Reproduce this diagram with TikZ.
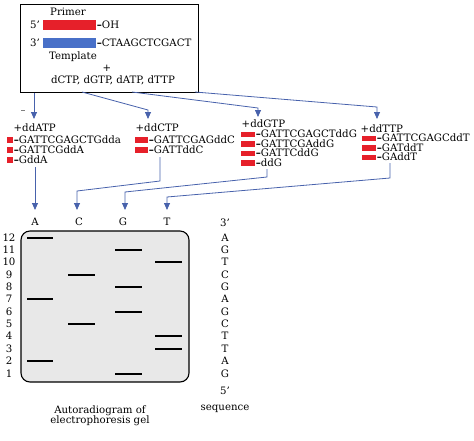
\documentclass[tikz,border=0pt]{standalone}
\usepackage{fontspec}
\setmainfont{DejaVu Serif}
\usetikzlibrary{arrows.meta}
\definecolor{conn}{RGB}{72,98,172}
\definecolor{pred}{RGB}{230,32,42}
\definecolor{pblue}{RGB}{72,112,200}
\definecolor{gelfill}{RGB}{232,232,232}
\begin{document}
\begin{tikzpicture}[x=1pt,y=-1pt,
  txt/.style={font=\fontsize{10.2}{11}\selectfont,inner sep=0.5pt},
  frag/.style={txt,anchor=west,inner sep=0.2pt,text height=7pt,text depth=0.3pt},
  redbar/.style={fill=pred,draw=none,minimum height=5.5pt,inner sep=0,anchor=west},
  conline/.style={draw=conn,line width=0.8pt},
  conarrow/.style={conline,-{Triangle[width=6pt,length=7pt]}},
  band/.style={line width=2.6pt,black},
  ]
\useasboundingbox (0,0) rectangle (474,440);
% top box
\node[draw,line width=0.9pt,minimum width=178pt,minimum height=88pt,inner sep=0,anchor=north west] (box) at (20,4) {};
\node[txt] (primer) at (68,12) {Primer};
\node[txt] (p5) at (35,25) {5'};
\node[txt] (p3) at (35,43) {3'};
\node[fill=pred,minimum width=53pt,minimum height=10pt,inner sep=0,anchor=west] (pbar) at (43,25) {};
\node[fill=pblue,minimum width=53pt,minimum height=10pt,inner sep=0,anchor=west] (tbar) at (43,43) {};
\node[frag] (oh) at (pbar.east) {\textbf{–}OH};
\node[frag] (tseq) at (tbar.east) {\textbf{–}CTAAGCTCGACT};
\node[txt] (templ) at (73,57) {Template};
\node[txt] (plus) at (107,68) {+};
\node[txt] (dntp) at (113,80) {dCTP, dGTP, dATP, dTTP};
% stray dash
\draw[gray,line width=0.5pt] (21,110) -- (25,110);
% reaction groups
\node[txt,anchor=west] (ga) at (13,128) {+ddATP};
\node[redbar,minimum width=6pt] (ra1) at (7,140) {};
\node[redbar,minimum width=6pt] (ra2) at (7,150) {};
\node[redbar,minimum width=6pt] (ra3) at (7,160) {};
\node[frag] (fa1) at (ra1.east) {\textbf{–}GATTCGAGCTGdda};
\node[frag] (fa2) at (ra2.east) {\textbf{–}GATTCGddA};
\node[frag] (fa3) at (ra3.east) {\textbf{–}GddA};

\node[txt,anchor=west] (gc) at (135,128) {+ddCTP};
\node[redbar,minimum width=13pt] (rc1) at (135,140) {};
\node[redbar,minimum width=13pt] (rc2) at (135,150) {};
\node[frag] (fc1) at (rc1.east) {\textbf{–}GATTCGAGddC};
\node[frag] (fc2) at (rc2.east) {\textbf{–}GATTddC};

\node[txt,anchor=west] (gg) at (241,124) {+ddGTP};
\node[redbar,minimum width=14pt] (rg1) at (241,134.5) {};
\node[redbar,minimum width=14pt] (rg2) at (241,144) {};
\node[redbar,minimum width=14pt] (rg3) at (241,153.5) {};
\node[redbar,minimum width=14pt] (rg4) at (241,163) {};
\node[frag] (fg1) at (rg1.east) {\textbf{–}GATTCGAGCTddG};
\node[frag] (fg2) at (rg2.east) {\textbf{–}GATTCGAddG};
\node[frag] (fg3) at (rg3.east) {\textbf{–}GATTCddG};
\node[frag] (fg4) at (rg4.east) {\textbf{–}ddG};

\node[txt,anchor=west] (gt) at (360,129) {+ddTTP};
\node[redbar,minimum width=14pt] (rt1) at (362,138.5) {};
\node[redbar,minimum width=14pt] (rt2) at (362,148) {};
\node[redbar,minimum width=14pt] (rt3) at (362,157.5) {};
\node[frag] (ft1) at (rt1.east) {\textbf{–}GATTCGAGCddT};
\node[frag] (ft2) at (rt2.east) {\textbf{–}GATddT};
\node[frag] (ft3) at (rt3.east) {\textbf{–}GAddT};

% arrows from box to groups
\coordinate (tA) at (34,119);
\coordinate (tC) at (148,119);
\coordinate (tG) at (258,117);
\coordinate (tT) at (377,119);
\draw[conarrow] (box.south west -| tA) -- (tA);
\draw[conarrow] (82,92) -- (148,110) -- (tC);
\draw[conarrow] (132,92) -- (258,108) -- (tG);
\draw[conarrow] (195,92) -- (377,107) -- (tT);

% lane labels
\node[txt] (lA) at (35,222) {A};
\node[txt] (lC) at (79,222) {C};
\node[txt] (lG) at (123,222) {G};
\node[txt] (lT) at (167,222) {T};
\coordinate (eA) at (35,210);
\coordinate (eC) at (77,210);
\coordinate (eG) at (125,210);
\coordinate (eT) at (167,210);

% arrows from groups to lanes
\draw[conarrow] (35,167) -- (eA);
\draw[conarrow] (160,157) -- (160,181) -- (77,191) -- (eC);
\draw[conarrow] (267,169) -- (267,177) -- (125,192) -- (eG);
\draw[conarrow] (390,163) -- (390,178) -- (167,197) -- (eT);

% gel
\draw[line width=1.1pt,fill=gelfill,rounded corners=9pt] (21,231) rectangle (189,382);
\foreach \r/\y in {12/238,11/250,10/262,9/275,8/287,7/299,6/312,5/324,4/336,3/349,2/361,1/374}{
  \node[txt] (row\r) at (9,\y) {\r};
}
% bands
\foreach \r in {12,7,2}{\draw[band] (27,0 |- row\r) -- (53,0 |- row\r);}
\foreach \r in {9,5}{\draw[band] (68,0 |- row\r) -- (95,0 |- row\r);}
\foreach \r in {11,8,6,1}{\draw[band] (115,0 |- row\r) -- (142,0 |- row\r);}
\foreach \r in {10,4,3}{\draw[band] (155,0 |- row\r) -- (182,0 |- row\r);}

% sequence
\node[txt] (s3) at (225,223) {3'};
\foreach \l/\y [count=\i] in {A/238,G/250,T/262,C/275,G/287,A/299,G/312,C/324,T/336,T/349,A/361,G/374}{
  \node[txt] (seq\i) at (225,\y) {\l};
}
\node[txt] (s5) at (225,391) {5'};
\node[txt] (seqlab) at (225,409) {sequence};
\node[txt,align=center] (gellab) at (100,416) {Autoradiogram of\\[-1.5pt]electrophoresis gel};
\end{tikzpicture}
\end{document}
